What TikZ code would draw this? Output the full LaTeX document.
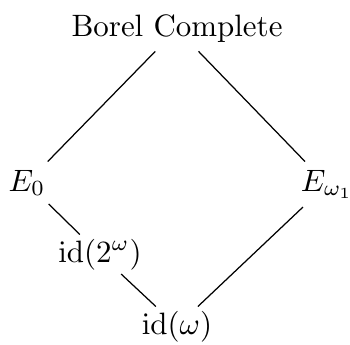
\documentclass[tikz,border=0pt]{standalone}
\begin{document}
\begin{tikzpicture}[x=0.3233pt,y=-0.3233pt,
  lbl/.style={inner sep=2.5pt, anchor=base},
  idlbl/.style={lbl, inner ysep=1.2pt},
  edge/.style={line width=0.4pt}]
\useasboundingbox (0,0) rectangle (350,344);
\node[lbl] (bc) at (177,37) {Borel Complete};
\node[lbl] (e0) at (27,191) {$E_0$};
\node[lbl] (ew) at (327,191) {$E_{\omega_1}$};
\node[idlbl] (i2) at (100,262) {$\mathrm{id}(2^\omega)$};
\node[idlbl] (iw) at (177,334) {$\mathrm{id}(\omega)$};
\draw[edge] (bc) -- (e0);
\draw[edge] (bc) -- (ew);
\draw[edge] (e0) -- (i2);
\draw[edge] (i2) -- (iw);
\draw[edge] (ew) -- (iw);
\end{tikzpicture}
\end{document}
